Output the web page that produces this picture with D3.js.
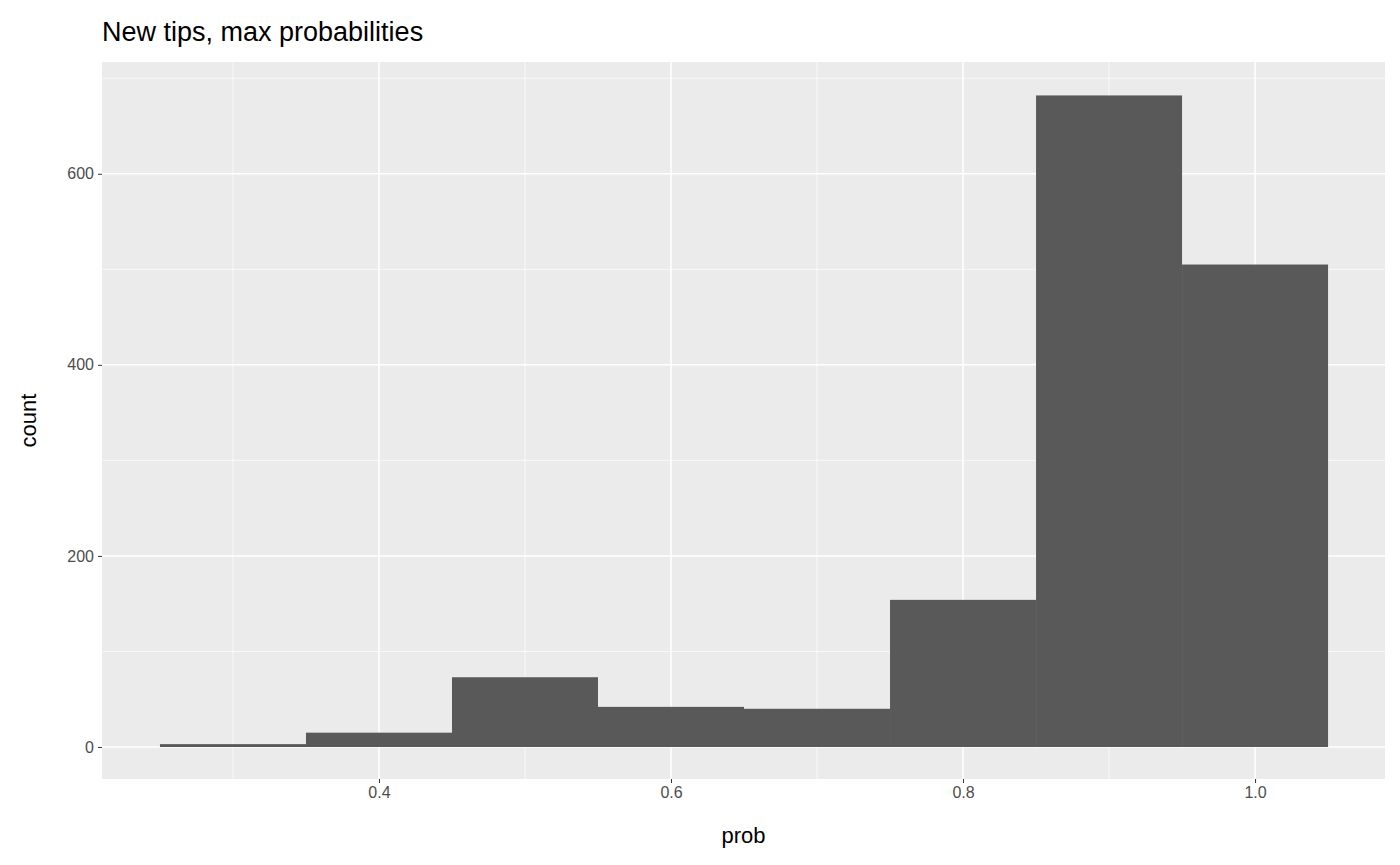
<!DOCTYPE html>
<html><head><meta charset="utf-8">
<script src="https://cdn.jsdelivr.net/npm/d3@7"></script>
<style>body{margin:0;background:#fff}text{font-family:"Liberation Sans",Arial,sans-serif}</style>
</head><body><svg id="c" width="1400" height="865"></svg>
<script>
const binStarts = [0.25, 0.35, 0.45, 0.55, 0.65, 0.75, 0.85, 0.95];
const binWidth = 0.1;
const counts = [3, 15, 73, 42, 40, 154, 682, 505];
const xTicks = [0.4, 0.6, 0.8, 1.0];
const xMinor = [0.3, 0.5, 0.7, 0.9];
const yTicks = [0, 200, 400, 600];
const yMinor = [100, 300, 500, 700];

const margin = {top: 62, right: 15, bottom: 86, left: 102};
const width = 1400, height = 865;
const svg = d3.select('#c');

const x = d3.scaleLinear().domain([0.2103, 1.089]).range([margin.left, width - margin.right]);
const y = d3.scaleLinear().domain([-33.5, 717]).range([height - margin.bottom, margin.top]);

svg.append('rect').attr('x', margin.left).attr('y', margin.top)
  .attr('width', width - margin.right - margin.left).attr('height', height - margin.bottom - margin.top)
  .attr('fill', '#ebebeb');

const g = svg.append('g');
g.selectAll('.hmin').data(yMinor).join('line')
  .attr('x1', margin.left).attr('x2', width - margin.right)
  .attr('y1', d => y(d)).attr('y2', d => y(d)).attr('stroke', '#fff').attr('stroke-width', 0.7);
g.selectAll('.vmin').data(xMinor).join('line')
  .attr('y1', margin.top).attr('y2', height - margin.bottom)
  .attr('x1', d => x(d)).attr('x2', d => x(d)).attr('stroke', '#fff').attr('stroke-width', 0.7);
g.selectAll('.hmaj').data(yTicks).join('line')
  .attr('x1', margin.left).attr('x2', width - margin.right)
  .attr('y1', d => y(d)).attr('y2', d => y(d)).attr('stroke', '#fff').attr('stroke-width', 1.5);
g.selectAll('.vmaj').data(xTicks).join('line')
  .attr('y1', margin.top).attr('y2', height - margin.bottom)
  .attr('x1', d => x(d)).attr('x2', d => x(d)).attr('stroke', '#fff').attr('stroke-width', 1.5);

svg.selectAll('.bar').data(binStarts).join('rect')
  .attr('x', d => x(d)).attr('width', x(binWidth) - x(0))
  .attr('y', (d, i) => y(counts[i])).attr('height', (d, i) => y(0) - y(counts[i]))
  .attr('fill', '#595959');

const xAxis = d3.axisBottom(x).tickValues(xTicks).tickFormat(d3.format('.1f')).tickSize(4).tickPadding(4);
const xa = svg.append('g').attr('transform', `translate(0,${height - margin.bottom})`).call(xAxis);
const yAxis = d3.axisLeft(y).tickValues(yTicks).tickSize(4).tickPadding(4);
const ya = svg.append('g').attr('transform', `translate(${margin.left},0)`).call(yAxis);
[xa, ya].forEach(a => {
  a.select('.domain').remove();
  a.selectAll('line').attr('stroke', '#333');
  a.selectAll('text').attr('fill', '#4d4d4d').style('font-size', '16px');
});

svg.append('text').attr('x', (margin.left + width - margin.right) / 2).attr('y', 843)
  .attr('text-anchor', 'middle').style('font-size', '22px').text('prob');
svg.append('text').attr('transform', `translate(36,${(margin.top + height - margin.bottom) / 2}) rotate(-90)`)
  .attr('text-anchor', 'middle').style('font-size', '22px').text('count');
svg.append('text').attr('x', margin.left).attr('y', 41).style('font-size', '27px').text('New tips, max probabilities');
</script></body></html>
